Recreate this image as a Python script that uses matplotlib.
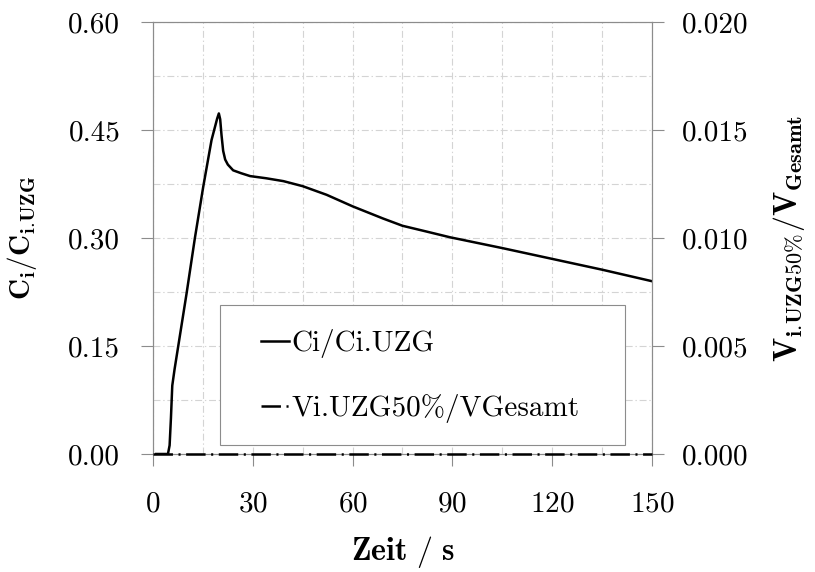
import matplotlib
matplotlib.use("Agg")
import matplotlib.pyplot as plt
from matplotlib.patches import Rectangle
from matplotlib.ticker import MultipleLocator, FormatStrFormatter

# data
zeit = [1, 4.5, 5.0, 5.4, 5.8, 6.5, 7.6, 10.1, 12.6, 15.1, 17.6, 19.3, 19.8,
        20.2, 20.6, 21.1, 21.7, 22.5, 24.1, 26.5, 29.2, 34, 39.2, 45, 52.2,
        60, 69.2, 75, 82.2, 89.3, 105, 120, 135, 150]
ci_ratio = [0, 0, 0.012, 0.05, 0.095, 0.118, 0.150, 0.223, 0.300, 0.371,
            0.436, 0.466, 0.473, 0.465, 0.443, 0.421, 0.409, 0.402, 0.394,
            0.390, 0.386, 0.383, 0.379, 0.372, 0.360, 0.344, 0.327, 0.317,
            0.309, 0.301, 0.286, 0.271, 0.256, 0.240]
zeit_v = [0, 30, 60, 90, 120, 150]
v_ratio = [0, 0, 0, 0, 0, 0]

plt.rcParams['font.family'] = 'cmr10'
plt.rcParams['mathtext.fontset'] = 'cm'
plt.rcParams['axes.formatter.use_mathtext'] = True
plt.rcParams['lines.scale_dashes'] = False

FS = 21
GRAY = '#8c8c8c'

fig = plt.figure(figsize=(8.15, 5.72), dpi=100)
ax = fig.add_axes([0.1877, 0.2063, 0.6123, 0.7552])
ax2 = ax.twinx()

l1, = ax.plot(zeit, ci_ratio, color='black', lw=1.8, label='Ci/Ci.UZG')
l2, = ax2.plot(zeit_v, v_ratio, color='black', lw=1.8, zorder=3, clip_on=False,
               dashes=(14, 4, 1.5, 4), label='Vi.UZG50%/VGesamt')

ax.set_xlim(0, 150)
ax.set_ylim(0, 0.60)
ax2.set_ylim(0, 0.020)
ax.xaxis.set_major_locator(MultipleLocator(30))
ax.xaxis.set_minor_locator(MultipleLocator(15))
ax.yaxis.set_major_locator(MultipleLocator(0.15))
ax.yaxis.set_minor_locator(MultipleLocator(0.075))
ax.yaxis.set_major_formatter(FormatStrFormatter('%.2f'))
ax2.yaxis.set_major_locator(MultipleLocator(0.005))
ax2.yaxis.set_major_formatter(FormatStrFormatter('%.3f'))

ax.grid(True, which='both', color='#d4d4d4', lw=0.8, dashes=(5, 2, 1, 2))
for a in (ax, ax2):
    for s in a.spines.values():
        s.set_color(GRAY)
        s.set_linewidth(0.8)
    a.tick_params(which='major', direction='out', length=8.5, width=0.8,
                  color=GRAY, labelsize=FS)
    a.tick_params(which='minor', length=0)
ax.tick_params(axis='y', pad=15)
ax.tick_params(axis='x', pad=18)
ax2.tick_params(axis='y', pad=13)

ax.set_xlabel(r'$\mathbf{Zeit\ /\ s}$', fontsize=23, labelpad=12)
ax.set_ylabel(r'$\mathbf{C_i/C_{i.\!UZG}}$', fontsize=21, labelpad=21)
ax2.set_ylabel(r'$\mathbf{V_{i.\!UZG50\%}/V_{Gesamt}}$', fontsize=23, labelpad=16)

# legend box
ax2.add_patch(Rectangle((0.134, 0.021), 0.812, 0.324, transform=ax2.transAxes,
                        facecolor='white', edgecolor=GRAY, lw=0.8, zorder=3))
leg = ax2.legend(handles=[l1, l2], loc='center left',
                 bbox_to_anchor=(0.2164, 0.1806), frameon=False, fontsize=FS,
                 borderpad=0, borderaxespad=0, handlelength=0.95,
                 handletextpad=0.1, labelspacing=1.24)
leg.set_zorder(4)

fig.savefig('out.png', dpi=100)
